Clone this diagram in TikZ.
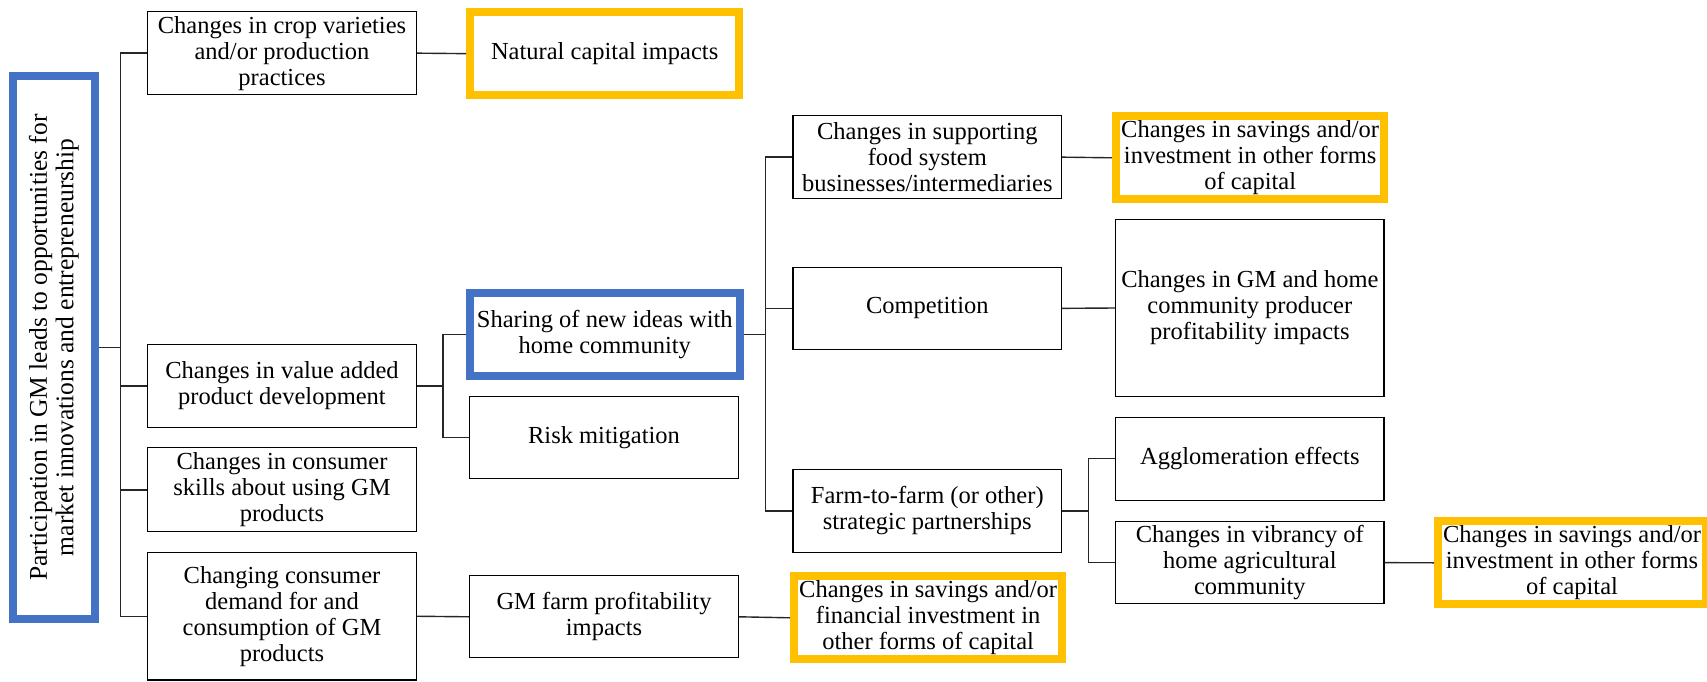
\documentclass[tikz,border=0pt]{standalone}
\usepackage{fontspec}
\setmainfont{Liberation Serif}
\definecolor{boxblue}{HTML}{4472C4}
\definecolor{boxgold}{HTML}{FFC000}
\begin{document}
\begin{tikzpicture}[x=1pt,y=-1pt,
  bx/.style={draw=black, line width=1.3pt, fill=white, align=center,
    inner xsep=0pt, inner ysep=0pt, minimum width=268.4pt,
    font=\fontsize{24.5pt}{26pt}\selectfont},
  gold/.style={draw=boxgold, line width=8pt, fill=white, align=center,
    inner xsep=0pt, inner ysep=0pt, minimum width=268.5pt,
    minimum height=83pt, font=\fontsize{24.5pt}{26pt}\selectfont},
  blue/.style={draw=boxblue, line width=8pt, fill=white, align=center,
    inner xsep=0pt, inner ysep=0pt, font=\fontsize{24.5pt}{26pt}\selectfont},
  conn/.style={draw=black!85, line width=1.4pt}]
\useasboundingbox (0,0) rectangle (1707,682);

% root
\node[blue, rotate=90, minimum width=542.4pt, minimum height=81.7pt,
  font=\fontsize{25.5pt}{26.5pt}\selectfont]
  (root) at (53.85,347.5) {Participation in GM leads to opportunities for\\market innovations and entrepreneurship};

% column A
\node[bx, minimum height=83.3pt] (crop) at (282,53.15) {Changes in crop varieties\\and/or production\\practices};
\node[bx, minimum height=82.7pt] (value) at (282,385.85) {Changes in value added\\product development};
\node[bx, minimum height=84pt] (skills) at (282,489.8) {Changes in consumer\\skills about using GM\\products};
\node[bx, minimum height=127.5pt] (demand) at (282,616.25) {Changing consumer\\demand for and\\consumption of GM\\products};

% column B
\node[gold, minimum width=269.3pt, minimum height=83.3pt] (natural) at (604.65,53.65) {Natural capital impacts};
\node[blue, minimum width=269.6pt, minimum height=82.7pt] (sharing) at (604.8,334.65) {Sharing of new ideas with\\home community};
\node[bx, minimum height=82.3pt] (risk) at (604,437.65) {Risk mitigation};
\node[bx, minimum height=82pt] (gmfarm) at (604,616.8) {GM farm profitability\\impacts};

% column C
\node[bx, minimum height=82.7pt] (supporting) at (927.3,157.15) {Changes in supporting\\food system\\businesses/intermediaries};
\node[bx, minimum height=82.3pt] (competition) at (927.3,308.35) {Competition};
\node[bx, minimum height=82.4pt] (farm) at (927.3,511) {Farm-to-farm (or other)\\strategic partnerships};
\node[gold, minimum width=268.3pt] (finsav) at (928.15,617.8) {Changes in savings and/or\\financial investment in\\other forms of capital};

% column D
\node[gold] (sav1) at (1250.15,157.8) {Changes in savings and/or\\investment in other forms\\of capital};
\node[bx, minimum height=176.4pt] (gmhome) at (1249.85,308) {Changes in GM and home\\community producer\\profitability impacts};
\node[bx, minimum height=83pt] (agglom) at (1249.85,458.7) {Agglomeration effects};
\node[bx, minimum height=82.3pt] (vibrancy) at (1249.85,562.65) {Changes in vibrancy of\\home agricultural\\community};

% column E
\node[gold, minimum width=268pt] (sav2) at (1572,562.8) {Changes in savings and/or\\investment in other forms\\of capital};

% trunk coordinates
\coordinate (t1) at (120.7,0);
\coordinate (t2) at (443,0);
\coordinate (t3) at (765.3,0);
\coordinate (t4) at (1088.7,0);

% connectors
\draw[conn] (root.south) -- (root.south -| t1);
\draw[conn] (crop.west) -- (crop.west -| t1) |- (demand.west);
\draw[conn] (value.west) -- (value.west -| t1);
\draw[conn] (skills.west) -- (skills.west -| t1);

\draw[conn] (crop.east) -- (natural.west);

\draw[conn] (value.east) -- (value.east -| t2);
\draw[conn] (sharing.west) -- (sharing.west -| t2) |- (risk.west);

\draw[conn] (demand.east) -- (gmfarm.west);
\draw[conn] (gmfarm.east) -- (finsav.west);

\draw[conn] (sharing.east) -- (sharing.east -| t3);
\draw[conn] (supporting.west) -- (supporting.west -| t3) |- (farm.west);
\draw[conn] (competition.west) -- (competition.west -| t3);

\draw[conn] (supporting.east) -- (sav1.west);
\draw[conn] (competition.east) -- (gmhome.west);

\draw[conn] (farm.east) -- (farm.east -| t4);
\draw[conn] (agglom.west) -- (agglom.west -| t4) |- (vibrancy.west);
\draw[conn] (vibrancy.east) -- (sav2.west);
\end{tikzpicture}
\end{document}
